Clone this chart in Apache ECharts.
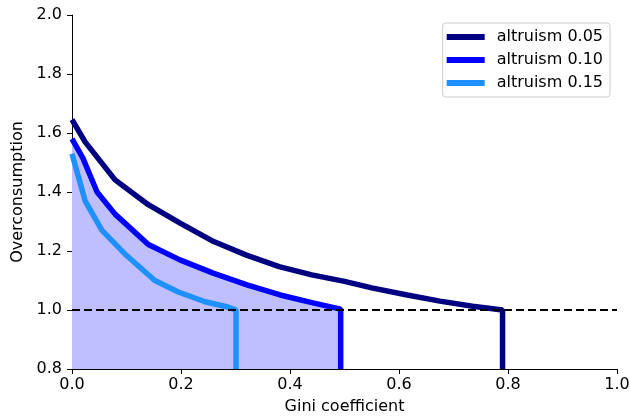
<!DOCTYPE html>
<html>
<head>
<meta charset="utf-8">
<script src="https://cdn.jsdelivr.net/npm/echarts@6/dist/echarts.min.js"></script>
<style>html,body{margin:0;padding:0;background:#fff;}#c{width:630px;height:420px;}</style>
</head>
<body>
<div id="c"></div>
<script>
const seriesNames = ['altruism 0.05', 'altruism 0.10', 'altruism 0.15'];
const xTicks = [0, 0.2, 0.4, 0.6, 0.8, 1.0];
const yTicks = [0.8, 1.0, 1.2, 1.4, 1.6, 1.8, 2.0];

const gini005 = [0, 0.024, 0.079, 0.14, 0.2, 0.26, 0.32, 0.38, 0.44, 0.5, 0.55, 0.615, 0.675, 0.735, 0.79, 0.79];
const over005 = [1.645, 1.57, 1.441, 1.357, 1.293, 1.232, 1.186, 1.147, 1.119, 1.097, 1.075, 1.051, 1.03, 1.013, 1.0, 0.8];

const gini010 = [0, 0.02, 0.046, 0.079, 0.14, 0.198, 0.259, 0.321, 0.382, 0.442, 0.493, 0.493];
const over010 = [1.58, 1.515, 1.40, 1.325, 1.222, 1.17, 1.125, 1.085, 1.051, 1.024, 1.003, 0.8];

const gini015 = [0, 0.024, 0.055, 0.097, 0.152, 0.194, 0.244, 0.286, 0.301, 0.301];
const over015 = [1.53, 1.37, 1.27, 1.19, 1.10, 1.062, 1.028, 1.01, 1.0, 0.8];

const refLevel = 1.0;

const zip = (a, b) => a.map((v, i) => [v, b[i]]);
const colors = ['#000080', '#0000ff', '#1e90ff'];
const font = 'DejaVu Sans';

const chart = echarts.init(document.getElementById('c'), null, {renderer: 'canvas'});
chart.setOption({
  animation: false,
  backgroundColor: '#fff',
  grid: {left: 72, right: 13, top: 15, bottom: 51, containLabel: false, outerBoundsMode: 'none'},
  legend: {
    data: seriesNames.map((n, i) => ({name: n, icon: 'rect', itemStyle: {color: colors[i]}})),
    orient: 'vertical',
    right: 20, top: 23,
    itemWidth: 38, itemHeight: 6, itemGap: 7,
    padding: [6, 7, 6, 4],
    borderColor: '#cccccc', borderWidth: 1, borderRadius: 3,
    backgroundColor: 'rgba(255,255,255,0.85)',
    textStyle: {fontFamily: font, fontSize: 16, color: '#000', padding: [0, 0, 0, 7]}
  },
  xAxis: {
    type: 'value', min: xTicks[0], max: xTicks[xTicks.length - 1], interval: 0.2,
    name: 'Gini coefficient', nameLocation: 'middle', nameGap: 30,
    nameTextStyle: {fontFamily: font, fontSize: 16, color: '#000'},
    axisLine: {show: true, lineStyle: {color: '#000', width: 1}},
    axisTick: {show: true, length: 5, lineStyle: {color: '#000'}},
    axisLabel: {fontFamily: font, fontSize: 16, color: '#000', margin: 8, formatter: v => v.toFixed(1)},
    splitLine: {show: false}
  },
  yAxis: {
    type: 'value', min: yTicks[0], max: yTicks[yTicks.length - 1], interval: 0.2,
    name: 'Overconsumption', nameLocation: 'middle', nameGap: 43,
    nameTextStyle: {fontFamily: font, fontSize: 16, color: '#000'},
    axisLine: {show: true, lineStyle: {color: '#000', width: 1}},
    axisTick: {show: true, length: 5, lineStyle: {color: '#000'}},
    axisLabel: {fontFamily: font, fontSize: 16, color: '#000', margin: 10, formatter: v => v.toFixed(1)},
    splitLine: {show: false}
  },
  series: [
    {
      name: 'fill', type: 'line', data: zip(gini010, over010), symbol: 'none', silent: true,
      lineStyle: {width: 0}, areaStyle: {color: '#bfbfff', opacity: 1, origin: 'start'}, z: 1
    },
    {
      name: seriesNames[0], type: 'line', data: zip(gini005, over005), symbol: 'none',
      lineStyle: {color: colors[0], width: 5.5}, itemStyle: {color: colors[0]}, z: 3
    },
    {
      name: seriesNames[1], type: 'line', data: zip(gini010, over010), symbol: 'none',
      lineStyle: {color: colors[1], width: 5.5}, itemStyle: {color: colors[1]}, z: 3
    },
    {
      name: seriesNames[2], type: 'line', data: zip(gini015, over015), symbol: 'none',
      lineStyle: {color: colors[2], width: 5.5}, itemStyle: {color: colors[2]}, z: 3
    },
    {
      name: 'ref', type: 'line', data: [[0, refLevel], [1, refLevel]], symbol: 'none', silent: true,
      lineStyle: {color: '#000', width: 2.2, type: [8, 4]}, z: 4
    }
  ]
});
</script>
</body>
</html>
